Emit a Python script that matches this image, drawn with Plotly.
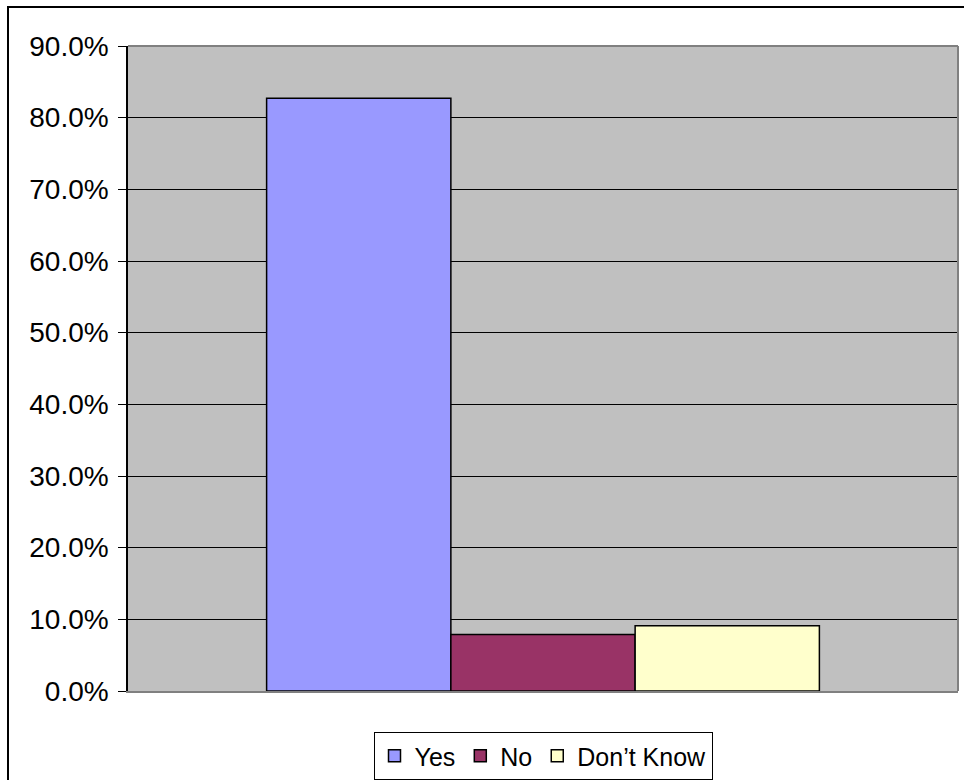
import plotly.graph_objects as go

categories = [""]
series_names = ["Yes", "No", "Don\u2019t Know"]
series_values = [0.827, 0.079, 0.091]
series_colors = ["#9999FF", "#993366", "#FFFFCC"]
tick_vals = [0.0, 0.1, 0.2, 0.3, 0.4, 0.5, 0.6, 0.7, 0.8, 0.9]
tick_text = ["0.0%", "10.0%", "20.0%", "30.0%", "40.0%", "50.0%", "60.0%", "70.0%", "80.0%", "90.0%"]

fig = go.Figure()
for name, val, col in zip(series_names, series_values, series_colors):
    fig.add_trace(go.Bar(
        x=categories, y=[val], name=name,
        marker=dict(color=col, line=dict(color="#000000", width=1.5)),
    ))

W, H = 964, 780
L, R, T, B = 128, 6, 46, 89
pw = W - L - R
ph = H - T - B

def px_x(p):
    return (p - L) / pw

def px_y(p):
    return (H - B - p) / ph

fig.update_layout(
    width=W, height=H,
    margin=dict(l=L, r=R, t=T, b=B, autoexpand=False),
    paper_bgcolor="#FFFFFF",
    plot_bgcolor="#C0C0C0",
    barmode="group",
    bargap=0.334,
    bargroupgap=0,
    font=dict(family="Liberation Sans, Arial, sans-serif", size=26, color="#000000"),
    showlegend=True,
    legend=dict(
        orientation="h",
        x=0.5, xanchor="center",
        y=px_y(732), yanchor="top",
        bgcolor="#FFFFFF",
        bordercolor="#000000", borderwidth=1,
        font=dict(size=25),
        itemwidth=30,
        tracegroupgap=0,
    ),
    xaxis=dict(
        showticklabels=False, ticks="", showgrid=False, zeroline=False,
        showline=True, linecolor="#808080", linewidth=2,
        fixedrange=True,
    ),
    yaxis=dict(
        range=[0, 0.9],
        tickvals=tick_vals, ticktext=tick_text,
        ticks="outside", ticklen=8, tickcolor="#000000", tickwidth=1,
        showgrid=True, gridcolor="#000000", gridwidth=1,
        zeroline=False,
        showline=True, linecolor="#000000", linewidth=1.5,
        tickfont=dict(size=28),
        ticklabelstandoff=4,
        automargin=False,
    ),
    shapes=[
        dict(type="line", xref="paper", yref="paper", x0=0, x1=1, y0=1, y1=1,
             line=dict(color="#808080", width=2), layer="above"),
        dict(type="line", xref="paper", yref="paper", x0=1, x1=1, y0=0, y1=1,
             line=dict(color="#808080", width=2), layer="above"),
        dict(type="rect", xref="paper", yref="paper",
             x0=px_x(8), x1=px_x(990), y0=px_y(7), y1=px_y(800),
             line=dict(color="#000000", width=2), fillcolor="rgba(0,0,0,0)", layer="above"),
    ],
)

fig.write_html("out.html",
               config={"displayModeBar": False},
               post_script="document.body.style.margin='0';document.body.style.overflow='hidden';")
